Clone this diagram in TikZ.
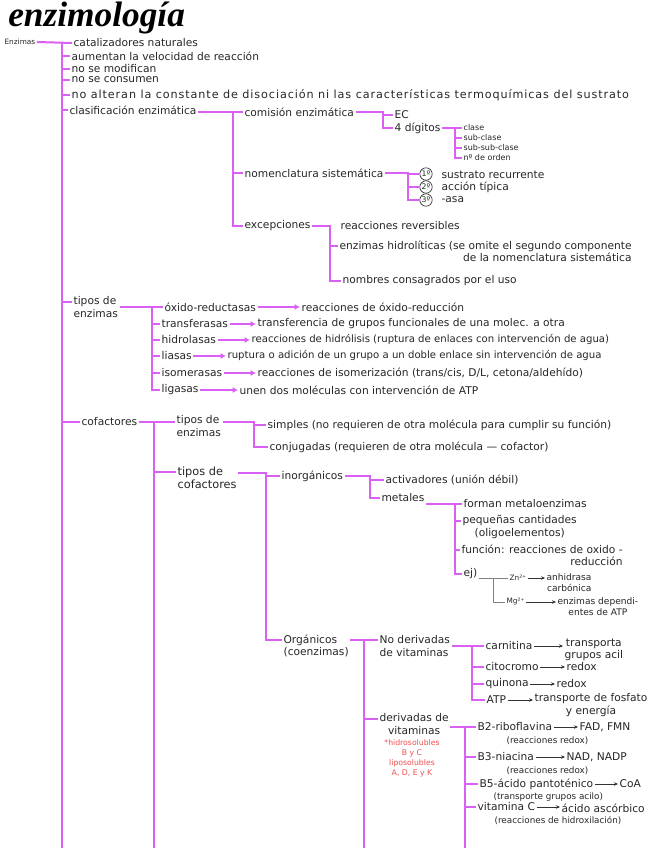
\documentclass[tikz,border=0pt]{standalone}
\usepackage{fontspec}
\setmainfont{DejaVu Sans}
\newfontfamily\titlefont{Liberation Serif}
\usetikzlibrary{arrows.meta}

\definecolor{lila}{RGB}{218,96,245}
\definecolor{rojo}{RGB}{238,78,78}

\tikzset{
  br/.style={draw=lila, line width=1.5pt},
  grbr/.style={draw=gray, line width=0.7pt},
  flecha/.style={draw=lila, line width=1.5pt, -{Latex[length=4pt,width=4.5pt]}},
  flechan/.style={draw=black!80, line width=0.5pt, -{Stealth[length=3pt,width=2.6pt]}},
  txt/.style={anchor=west, inner sep=1pt, text=black!85, font=\fontsize{8}{9.5}\selectfont},
  txtd/.style={txt, anchor=north west, align=left},
  chico/.style={txt, font=\fontsize{6}{7.5}\selectfont},
  nota/.style={txt, font=\fontsize{6.6}{8}\selectfont},
  largo/.style={txt, font=\fontsize{7.6}{9}\selectfont},
  circ/.style={circle, draw=black!85, line width=0.5pt, inner sep=0pt, minimum size=9.3pt, text=black!85, font=\fontsize{5.8}{6}\selectfont},
}

\begin{document}
\begin{tikzpicture}[x=0.75pt, y=-0.75pt]
  \useasboundingbox (0,0) rectangle (655,848);

  % Title
  \node[anchor=west, inner sep=0pt, text=black, font=\titlefont\bfseries\itshape\fontsize{26.5}{26.5}\selectfont] (tit) at (8,18) {enzimología};

  % Root and its bus
  \node[chico, font=\fontsize{5.5}{6}\selectfont] (enz) at (3,42) {Enzimas};
  \coordinate (bus0) at (62,848);
  \node[txt] (cat) at (72,43) {catalizadores naturales};
  \node[txt] (aum) at (70,56) {aumentan la velocidad de reacción};
  \node[txt] (nomod) at (70,69) {no se modifican};
  \node[txt] (nocon) at (70,80) {no se consumen};
  \node[txt, font=\fontsize{8.4}{10}\selectfont\addfontfeature{LetterSpace=8}] (noalt) at (70,95) {no alteran la constante de disociación ni las características termoquímicas del sustrato};
  \node[txt] (clas) at (68,110) {clasificación enzimática};
  \node[txtd] (tenz) at (72,295) {tipos de\\enzimas};
  \coordinate (tenz1) at ([yshift=-5pt]tenz.north west);
  \node[txt] (cof) at (80,422) {cofactores};

  \draw[br] (enz.east) -- (cat.west);
  \draw[br] (cat.west -| bus0) -- (bus0);
  \draw[br] (aum.west -| bus0) -- (aum.west);
  \draw[br] (nomod.west -| bus0) -- (nomod.west);
  \draw[br] (nocon.west -| bus0) -- (nocon.west);
  \draw[br] (noalt.west -| bus0) -- (noalt.west);
  \draw[br] (clas.west -| bus0) -- (clas.west);
  \draw[br] (tenz1 -| bus0) -- (tenz1);
  \draw[br] (cof.west -| bus0) -- (cof.west);

  % Clasificacion enzimatica
  \coordinate (bus1) at (233,0);
  \node[txt] (comi) at (243,112) {comisión enzimática};
  \node[txt] (nom) at (243,173) {nomenclatura sistemática};
  \node[txt] (exc) at (243,226) {excepciones};
  \draw[br] (comi.west -| clas.east) -- (comi.west);
  \draw[br] (comi.west -| bus1) |- (exc.west);
  \draw[br] (nom.west -| bus1) -- (nom.west);

  % Comision enzimatica
  \coordinate (bus2) at (383,0);
  \node[txt] (ec) at (393,115) {EC};
  \node[txt] (dig) at (393,128) {4 dígitos};
  \draw[br] (comi.east) -- (comi.east -| bus2) |- (dig.west);
  \draw[br] (ec.west -| bus2) -- (ec.west);

  % 4 digitos
  \coordinate (bus3) at (455,0);
  \node[chico] (cla) at (462,128) {clase};
  \node[chico] (sub) at (462,138) {sub-clase};
  \node[chico] (ssub) at (462,148) {sub-sub-clase};
  \node[chico] (nord) at (462,158) {nº de orden};
  \draw[br] (dig.east) -- (dig.east -| bus3) |- (nord.west);
  \draw[br] (cla.west -| bus3) -- (cla.west);
  \draw[br] (sub.west -| bus3) -- (sub.west);
  \draw[br] (ssub.west -| bus3) -- (ssub.west);

  % Nomenclatura sistematica
  \coordinate (bus4) at (408,0);
  \node[circ] (c1) at (426,174) {1º};
  \node[circ] (c2) at (426,187) {2º};
  \node[circ] (c3) at (426,200) {3º};
  \node[txt] (s1) at (440,175) {sustrato recurrente};
  \node[txt] (s2) at (440,187) {acción típica};
  \node[txt] (s3) at (440,200) {-asa};
  \draw[br] (nom.east) -- (nom.east -| bus4) |- (c3.west);
  \draw[br] (c1.west -| bus4) -- (c1.west);
  \draw[br] (c2.west -| bus4) -- (c2.west);

  % Excepciones
  \coordinate (bus5) at (330,0);
  \node[txt] (rrev) at (339,226) {reacciones reversibles};
  \node[txtd, align=right] (hidl) at (338,239) {enzimas hidrolíticas (se omite el segundo componente\\de la nomenclatura sistemática};
  \coordinate (hidl1) at ([yshift=-5pt]hidl.north west);
  \node[txt] (ncons) at (341,281) {nombres consagrados por el uso};
  \draw[br] (exc.east) -- (exc.east -| bus5) |- (ncons.west);
  \draw[br] (hidl1 -| bus5) -- (hidl1);

  % Tipos de enzimas
  \coordinate (bus6) at (152,0);
  \node[txt] (oxi) at (163,307) {óxido-reductasas};
  \node[txt] (trans) at (160,324) {transferasas};
  \node[txt] (hidro) at (160,340) {hidrolasas};
  \node[txt] (lia) at (160,356) {liasas};
  \node[txt] (iso) at (160,373) {isomerasas};
  \node[txt] (lig) at (160,390) {ligasas};
  \node[txt] (roxi) at (300,307) {reacciones de óxido-reducción};
  \node[txt] (rtrans) at (256,324) {transferencia de grupos funcionales de una molec. a otra};
  \node[largo] (rhidro) at (250,340) {reacciones de hidrólisis (ruptura de enlaces con intervención de agua)};
  \node[largo] (rlia) at (226,356) {ruptura o adición de un grupo a un doble enlace sin intervención de agua};
  \node[txt] (riso) at (256,373) {reacciones de isomerización (trans/cis, D/L, cetona/aldehído)};
  \node[txt] (rlig) at (238,390) {unen dos moléculas con intervención de ATP};
  \draw[br] (oxi.west -| tenz.east) -- (oxi.west);
  \draw[br] (oxi.west -| bus6) |- (lig.west);
  \draw[br] (trans.west -| bus6) -- (trans.west);
  \draw[br] (hidro.west -| bus6) -- (hidro.west);
  \draw[br] (lia.west -| bus6) -- (lia.west);
  \draw[br] (iso.west -| bus6) -- (iso.west);
  \draw[flecha] (oxi.east) -- (roxi.west);
  \draw[flecha] (trans.east) -- (rtrans.west);
  \draw[flecha] (hidro.east) -- (rhidro.west);
  \draw[flecha] (lia.east) -- (rlia.west);
  \draw[flecha] (iso.east) -- (riso.west);
  \draw[flecha] (lig.east) -- (rlig.west);

  % Cofactores
  \coordinate (bus7) at (154,848);
  \node[txtd] (tenz2) at (175,414) {tipos de\\enzimas};
  \coordinate (tenz2r) at ([yshift=-6pt]tenz2.north east);
  \node[txtd, font=\fontsize{8.5}{10}\selectfont] (tcof) at (176,465) {tipos de\\cofactores};
  \coordinate (tcof1) at ([yshift=-5pt]tcof.north west);
  \coordinate (tcof2) at ([yshift=-6pt]tcof.north east);
  \draw[br] (cof.east) -- (cof.east -| tenz2.west);
  \draw[br] (cof.east -| bus7) -- (bus7);
  \draw[br] (tcof1 -| bus7) -- (tcof1);

  % Tipos de enzimas (simples / conjugadas)
  \coordinate (bus8) at (254,0);
  \node[txt] (simp) at (266,425) {simples (no requieren de otra molécula para cumplir su función)};
  \node[txt] (conj) at (268,447) {conjugadas (requieren de otra molécula — cofactor)};
  \draw[br] (tenz2r) -- (tenz2r -| bus8) |- (conj.west);
  \draw[br] (simp.west -| bus8) -- (simp.west);

  % Tipos de cofactores
  \coordinate (bus9) at (266,0);
  \node[txt] (inor) at (280,476) {inorgánicos};
  \node[txtd] (orgn) at (282,633) {Orgánicos\\(coenzimas)};
  \coordinate (orgn1) at ([yshift=-5pt]orgn.north west);
  \coordinate (orgn2) at ([yshift=-5pt]orgn.north east);
  \draw[br] (tcof2) -- (tcof2 -| bus9) |- (orgn1);
  \draw[br] (inor.west -| bus9) -- (inor.west);

  % Inorganicos
  \coordinate (bus10) at (370,0);
  \node[txt] (act) at (384,480) {activadores (unión débil)};
  \node[txt] (met) at (380,498) {metales};
  \draw[br] (inor.east) -- (inor.east -| bus10) |- (met.west);
  \draw[br] (act.west -| bus10) -- (act.west);

  % Metales
  \coordinate (bus11) at (455,0);
  \node[txt] (form) at (462,504) {forman metaloenzimas};
  \node[txtd, align=center] (peq) at (461,514) {pequeñas cantidades\\(oligoelementos)};
  \coordinate (peq1) at ([yshift=-5pt]peq.north west);
  \node[txtd, align=right] (func) at (460,543) {función: reacciones de oxido -\\reducción};
  \coordinate (func1) at ([yshift=-5pt]func.north west);
  \node[txt] (ej) at (462,574) {ej)};
  \draw[br] (form.west -| met.east) -- (form.west -| bus11) |- (ej.west);
  \draw[br] (form.west -| bus11) -- (form.west);
  \draw[br] (peq1 -| bus11) -- (peq1);
  \draw[br] (func1 -| bus11) -- (func1);

  % Ejemplos
  \coordinate (bus12) at (493,0);
  \node[chico, font=\fontsize{5.5}{6}\selectfont] (zn) at (508,578) {Zn²⁺};
  \node[txtd, align=right, font=\fontsize{6.8}{8.5}\selectfont] (anh) at (545,572) {anhidrasa\\carbónica};
  \node[chico, font=\fontsize{5.5}{6}\selectfont] (mg) at (505,602) {Mg²⁺};
  \node[txtd, align=center, font=\fontsize{6.8}{8.5}\selectfont] (dep) at (556,596) {enzimas dependi-\\entes de ATP};
  \draw[grbr] (zn.west -| ej.east) -- (zn.west);
  \draw[grbr] (zn.west -| bus12) |- (mg.west);
  \draw[flechan] (zn.east) -- (zn.east -| anh.west);
  \draw[flechan] (mg.east) -- (mg.east -| dep.west);

  % Organicos
  \coordinate (bus13) at (364,848);
  \node[txtd] (nder) at (378,634) {No derivadas\\de vitaminas};
  \node[txtd, align=center] (der) at (378,712) {derivadas de\\vitaminas};
  \coordinate (der1) at ([yshift=-5pt]der.north west);
  \node[anchor=north, inner sep=1pt, text=rojo, align=center, font=\fontsize{5.8}{7.6}\selectfont] (roja) at (412,738) {*hidrosolubles\\B y C\\liposolubles\\A, D, E y K};
  \draw[br] (orgn2) -- (orgn2 -| nder.west);
  \draw[br] (orgn2 -| bus13) -- (bus13);
  \draw[br] (der1 -| bus13) -- (der1);

  % No derivadas de vitaminas
  \coordinate (bus14) at (472,0);
  \node[txt] (carn) at (484,646) {carnitina};
  \node[txtd, align=center] (tcarn) at (563,637) {transporta\\grupos acil};
  \node[txt] (cito) at (484,667) {citocromo};
  \node[txt] (rcito) at (565,667) {redox};
  \node[txt] (quin) at (484,684) {quinona};
  \node[txt] (rquin) at (555,684) {redox};
  \node[txt] (atp) at (485,700) {ATP};
  \node[txtd, align=center] (tatp) at (533,692) {transporte de fosfato\\y energía};
  \draw[br] (carn.west -| nder.east) -- (carn.west -| bus14) |- (atp.west);
  \draw[br] (carn.west -| bus14) -- (carn.west);
  \draw[br] (cito.west -| bus14) -- (cito.west);
  \draw[br] (quin.west -| bus14) -- (quin.west);
  \draw[flechan] (carn.east) -- (carn.east -| tcarn.west);
  \draw[flechan] (cito.east) -- (rcito.west);
  \draw[flechan] (quin.east) -- (rquin.west);
  \draw[flechan] (atp.east) -- (atp.east -| tatp.west);

  % Derivadas de vitaminas
  \coordinate (bus15) at (465,848);
  \node[txt] (b2) at (476,727) {B2-riboflavina};
  \node[txt] (fad) at (578,727) {FAD, FMN};
  \node[nota] (rb2) at (505,741) {(reacciones redox)};
  \node[txt] (b3) at (476,757) {B3-niacina};
  \node[txt] (nad) at (565,757) {NAD, NADP};
  \node[nota] (rb3) at (505,771) {(reacciones redox)};
  \node[txt] (b5) at (478,784) {B5-ácido pantoténico};
  \node[txt] (coa) at (618,784) {CoA};
  \node[nota] (rb5) at (492,797) {(transporte grupos acilo)};
  \node[txt] (vc) at (476,807) {vitamina C};
  \node[txt] (asc) at (560,808) {ácido ascórbico};
  \node[nota] (rvc) at (493,821) {(reacciones de hidroxilación)};
  \draw[br] (b2.west -| der.east) -- (b2.west);
  \draw[br] (b2.west -| bus15) -- (bus15);
  \draw[br] (b3.west -| bus15) -- (b3.west);
  \draw[br] (b5.west -| bus15) -- (b5.west);
  \draw[br] (vc.west -| bus15) -- (vc.west);
  \draw[flechan] (b2.east) -- (fad.west);
  \draw[flechan] (b3.east) -- (nad.west);
  \draw[flechan] (b5.east) -- (coa.west);
  \draw[flechan] (vc.east) -- (vc.east -| asc.west);
\end{tikzpicture}
\end{document}
